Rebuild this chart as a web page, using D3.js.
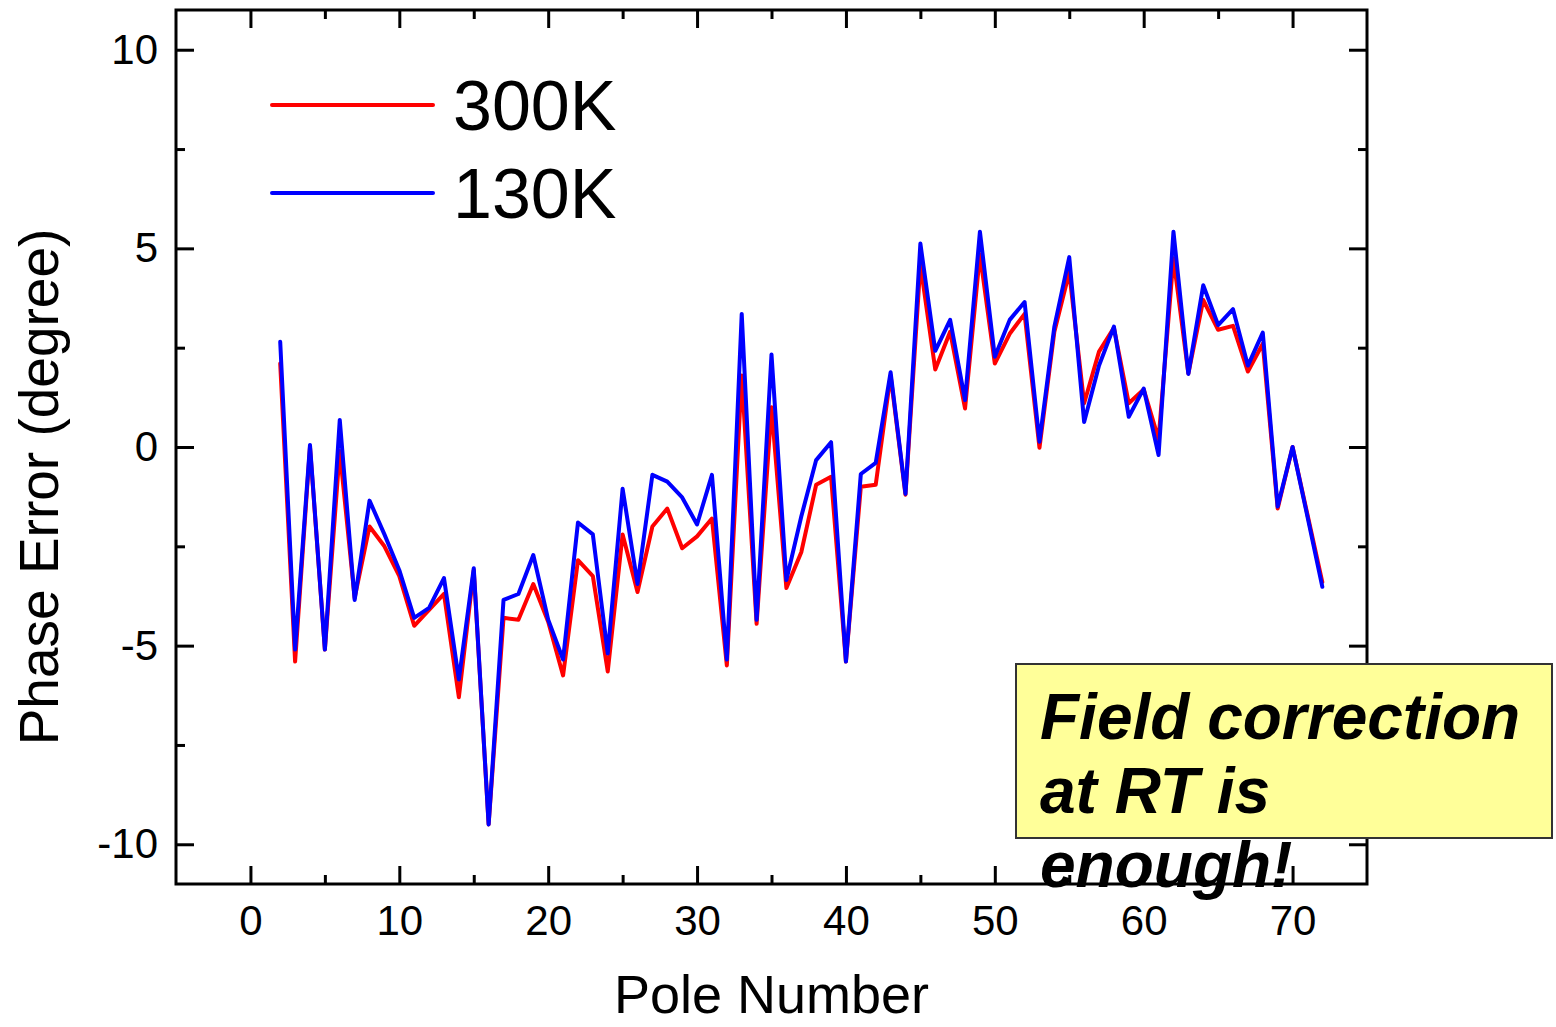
<!DOCTYPE html>
<html>
<head>
<meta charset="utf-8">
<script src="https://cdn.jsdelivr.net/npm/d3@7"></script>
<style>
  html, body { margin: 0; padding: 0; background: #fff; }
  svg { display: block; font-family: "Liberation Sans", Arial, Helvetica, sans-serif; }
</style>
</head>
<body>
<svg id="chart" width="1556" height="1027"></svg>
<script>
// Pole index along the undulator
const poles = [2, 3, 4, 5, 6, 7, 8, 9, 10, 11, 12, 13, 14, 15, 16, 17, 18, 19, 20, 21,
  22, 23, 24, 25, 26, 27, 28, 29, 30, 31, 32, 33, 34, 35, 36, 37, 38, 39, 40, 41,
  42, 43, 44, 45, 46, 47, 48, 49, 50, 51, 52, 53, 54, 55, 56, 57, 58, 59, 60, 61,
  62, 63, 64, 65, 66, 67, 68, 69, 70, 71, 72];

// Phase error (degree) measured at room temperature
const phase300K = [2.1, -5.4, 0.0, -5.1, -0.1, -3.8, -2.0, -2.5, -3.25, -4.5,
  -4.1, -3.7, -6.3, -3.1, -9.5, -4.3, -4.35, -3.45, -4.4, -5.75,
  -2.85, -3.25, -5.65, -2.2, -3.65, -2.0, -1.55, -2.55, -2.25, -1.8,
  -5.5, 1.8, -4.45, 1.0, -3.55, -2.65, -0.95, -0.75, -5.4, -1.0,
  -0.95, 1.8, -1.2, 4.6, 1.95, 2.9, 0.97, 4.85, 2.1, 2.85,
  3.35, -0.02, 2.9, 4.4, 1.1, 2.4, 3.0, 1.1, 1.45, 0.2,
  4.75, 1.85, 3.7, 2.95, 3.05, 1.9, 2.6, -1.55, 0.0, -1.7, -3.4];

// Phase error (degree) measured cold
const phase130K = [2.65, -5.1, 0.05, -5.1, 0.68, -3.85, -1.35, -2.2, -3.1, -4.3,
  -4.05, -3.3, -5.85, -3.05, -9.5, -3.85, -3.7, -2.72, -4.35, -5.35,
  -1.9, -2.2, -5.2, -1.05, -3.45, -0.7, -0.87, -1.27, -1.95, -0.7,
  -5.35, 3.35, -4.35, 2.33, -3.35, -1.75, -0.33, 0.12, -5.4, -0.68,
  -0.4, 1.88, -1.18, 5.12, 2.42, 3.2, 1.18, 5.42, 2.27, 3.2,
  3.65, 0.13, 3.03, 4.78, 0.63, 2.05, 3.03, 0.76, 1.47, -0.2,
  5.42, 1.84, 4.07, 3.07, 3.47, 2.05, 2.88, -1.5, 0.0, -1.75, -3.52];

const xMajorTicks = [0, 10, 20, 30, 40, 50, 60, 70];
const xMinorTicks = [5, 15, 25, 35, 45, 55, 65];
const yMajorTicks = [-10, -5, 0, 5, 10];
const yMinorTicks = [-7.5, -2.5, 2.5, 7.5];

const seriesNames = ["300K", "130K"];
const seriesColors = ["#ff0000", "#0000ff"];

const noteLines = ["Field correction", "at RT is", "enough!"];

const svg = d3.select("#chart");
const margin = { left: 176, top: 10, right: 189, bottom: 143 };
const W = 1556, H = 1027;
const plotW = W - margin.left - margin.right;
const plotH = H - margin.top - margin.bottom;

const x = d3.scaleLinear().domain([-5, 75]).range([0, plotW]);
const y = d3.scaleLinear().domain([-11, 11]).range([plotH, 0]);

const g = svg.append("g").attr("transform", `translate(${margin.left},${margin.top})`);

// Data lines: room temperature first, cold curve over it
const line = d3.line()
  .x((d, i) => x(poles[i]))
  .y(d => y(d));

[phase300K, phase130K].forEach((vals, k) => {
  g.append("path")
    .datum(vals)
    .attr("d", line)
    .attr("fill", "none")
    .attr("stroke", seriesColors[k])
    .attr("stroke-width", 4)
    .attr("stroke-linejoin", "round")
    .attr("stroke-linecap", "round");
});

// Axes with inward ticks on all four sides
const tickStyle = sel => {
  sel.select(".domain").remove();
  sel.selectAll("line").attr("stroke", "#000").attr("stroke-width", 3);
};
const labelFont = 42;
const plainNumber = d => String(d);

g.append("g").attr("transform", `translate(0,${plotH})`)
  .call(d3.axisBottom(x).tickValues(xMajorTicks).tickSize(-18).tickPadding(21).tickFormat(plainNumber))
  .call(tickStyle)
  .call(s => s.selectAll("text").attr("font-size", labelFont).attr("fill", "#000")
    .attr("font-family", "Liberation Sans, Arial, sans-serif").attr("dy", "0.71em"));
g.append("g").attr("transform", `translate(0,${plotH})`)
  .call(d3.axisBottom(x).tickValues(xMinorTicks).tickSize(-9).tickFormat(""))
  .call(tickStyle);
g.append("g")
  .call(d3.axisTop(x).tickValues(xMajorTicks).tickSize(-18).tickFormat(""))
  .call(tickStyle);
g.append("g")
  .call(d3.axisTop(x).tickValues(xMinorTicks).tickSize(-9).tickFormat(""))
  .call(tickStyle);

g.append("g")
  .call(d3.axisLeft(y).tickValues(yMajorTicks).tickSize(-18).tickPadding(18).tickFormat(plainNumber))
  .call(tickStyle)
  .call(s => s.selectAll("text").attr("font-size", labelFont).attr("fill", "#000")
    .attr("font-family", "Liberation Sans, Arial, sans-serif"));
g.append("g")
  .call(d3.axisLeft(y).tickValues(yMinorTicks).tickSize(-9).tickFormat(""))
  .call(tickStyle);
g.append("g").attr("transform", `translate(${plotW},0)`)
  .call(d3.axisRight(y).tickValues(yMajorTicks).tickSize(-18).tickFormat(""))
  .call(tickStyle);
g.append("g").attr("transform", `translate(${plotW},0)`)
  .call(d3.axisRight(y).tickValues(yMinorTicks).tickSize(-9).tickFormat(""))
  .call(tickStyle);

// Frame
g.append("rect")
  .attr("x", 0).attr("y", 0).attr("width", plotW).attr("height", plotH)
  .attr("fill", "none").attr("stroke", "#000").attr("stroke-width", 3);

// Axis titles
svg.append("text")
  .attr("x", margin.left + plotW / 2).attr("y", 1013)
  .attr("text-anchor", "middle").attr("font-size", 54).attr("fill", "#000")
  .text("Pole Number");
svg.append("text")
  .attr("transform", "translate(58,487) rotate(-90)")
  .attr("text-anchor", "middle").attr("font-size", 55).attr("fill", "#000")
  .text("Phase Error (degree)");

// Legend
const legend = svg.append("g");
seriesNames.forEach((name, k) => {
  const ly = 105 + k * 88;
  legend.append("line")
    .attr("x1", 272).attr("x2", 433).attr("y1", ly).attr("y2", ly)
    .attr("stroke", seriesColors[k]).attr("stroke-width", 4).attr("stroke-linecap", "round");
  legend.append("text")
    .attr("x", 453).attr("y", ly + 25)
    .attr("font-size", 70).attr("fill", "#000")
    .text(name);
});

// Annotation box
svg.append("rect")
  .attr("x", 1016).attr("y", 664).attr("width", 536).attr("height", 174)
  .attr("fill", "#ffff99").attr("stroke", "#333").attr("stroke-width", 2);
const note = svg.append("text")
  .attr("font-size", 64).attr("font-weight", "bold").attr("font-style", "italic")
  .attr("fill", "#000");
noteLines.forEach((t, i) => {
  note.append("tspan").attr("x", 1040).attr("y", 739 + i * 74).text(t);
});
</script>
</body>
</html>
